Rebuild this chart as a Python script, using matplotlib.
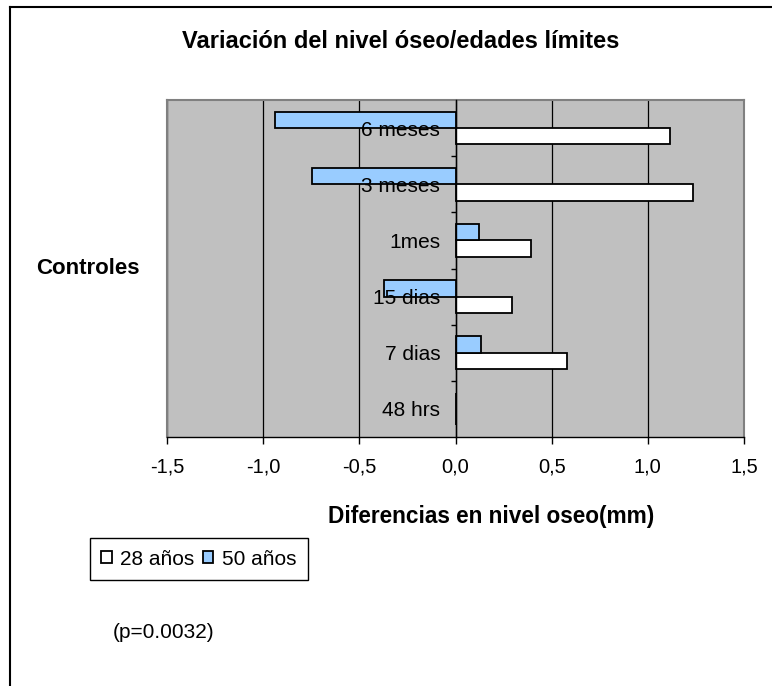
import matplotlib
matplotlib.use("Agg")
import matplotlib.pyplot as plt
from matplotlib.lines import Line2D
import numpy as np

# ---- data ----
categories = ['48 hrs', '7 dias', '15 dias', '1mes', '3 meses', '6 meses']
serie_28 = [0.0, 0.58, 0.295, 0.395, 1.237, 1.115]
serie_50 = [0.0, 0.13, -0.372, 0.124, -0.747, -0.94]
series_names = ['28 años', '50 años']
xtick_values = [-1.5, -1.0, -0.5, 0.0, 0.5, 1.0, 1.5]
xtick_labels = ['-1,5', '-1,0', '-0,5', '0,0', '0,5', '1,0', '1,5']
title = 'Variación del nivel óseo/edades límites'
xlabel = 'Diferencias en nivel oseo(mm)'
ylabel = 'Controles'
note = '(p=0.0032)'

plt.rcParams['font.family'] = ['Liberation Sans', 'DejaVu Sans']

W, H = 772, 686
fig = plt.figure(figsize=(W / 100, H / 100), dpi=100)
fig.patch.set_facecolor('white')

# plot area in pixels
L, R, T, B = 167, 744, 100, 437
ax = fig.add_axes([L / W, 1 - B / H, (R - L) / W, (B - T) / H])
ax.set_facecolor('#C0C0C0')

y = np.arange(len(categories))
h = 0.29
ax.barh(y - h / 2, serie_28, height=h, color='white', edgecolor='black',
        linewidth=1.3, label=series_names[0], zorder=2)
ax.barh(y + h / 2, serie_50, height=h, color='#99CCFF', edgecolor='black',
        linewidth=1.3, label=series_names[1], zorder=2)

ax.set_xlim(-1.5, 1.5)
ax.set_ylim(-0.5, len(categories) - 0.5)

ax.set_xticks(xtick_values)
ax.set_xticklabels(xtick_labels)
ax.tick_params(axis='x', direction='out', length=5, width=1, color='black',
               labelsize=14.5, pad=9.5)
ax.set_yticks([])

ax.set_axisbelow(True)
ax.xaxis.grid(True, color='black', linewidth=0.9)

for s in ['left', 'right', 'top']:
    ax.spines[s].set_color('#808080')
    ax.spines[s].set_linewidth(1.5)
ax.spines['bottom'].set_color('black')
ax.spines['bottom'].set_linewidth(1.0)

# category axis at x = 0
sec = ax.secondary_yaxis(0.5)
sec.set_alignment('left')
sec.set_zorder(5)
sec.patch.set_visible(False)
sec.set_yticks(y)
sec.set_yticklabels(categories)
sec.set_yticks(y[:-1] + 0.5, minor=True)
sec.tick_params(axis='y', which='major', length=0, labelsize=15, pad=11)
sec.tick_params(axis='y', which='minor', length=3.6, width=1, color='black',
                direction='out')
sec.spines['left'].set_color('black')
sec.spines['left'].set_linewidth(1.0)

# axis labels
ax.set_xlabel(xlabel, fontsize=16.3, fontweight='bold')
ax.xaxis.set_label_coords((491 - L) / (R - L), (B - 516) / (B - T))
ax.xaxis.label.set_va('center')
ax.set_ylabel(ylabel, fontsize=16, fontweight='bold', rotation=0)
ax.yaxis.set_label_coords((87.5 - L) / (R - L), (B - 268) / (B - T))
ax.yaxis.label.set_va('center')
ax.yaxis.label.set_ha('center')

# title
fig.text(400.5 / W, 1 - 42 / H, title, ha='center', va='center',
         fontsize=17, fontweight='bold')

# legend
leg = fig.legend(loc='lower left', bbox_to_anchor=(90 / W, 1 - 580 / H),
                 ncol=2, fontsize=15, frameon=True, fancybox=False,
                 edgecolor='black', framealpha=1, borderaxespad=0,
                 handlelength=0.5, handleheight=0.5, handletextpad=0.4,
                 columnspacing=0.4, borderpad=0.55)
leg.get_frame().set_linewidth(1.0)

# note
fig.text(164 / W, 1 - 633 / H, note, ha='center', va='center', fontsize=15)

# outer frame (left and top edges)
fig.add_artist(Line2D([10 / W, 10 / W], [0, 1 - 7 / H], transform=fig.transFigure,
                      color='black', linewidth=1.5))
fig.add_artist(Line2D([10 / W, 1], [1 - 7 / H, 1 - 7 / H], transform=fig.transFigure,
                      color='black', linewidth=1.5))

fig.savefig('out.png', dpi=100)
